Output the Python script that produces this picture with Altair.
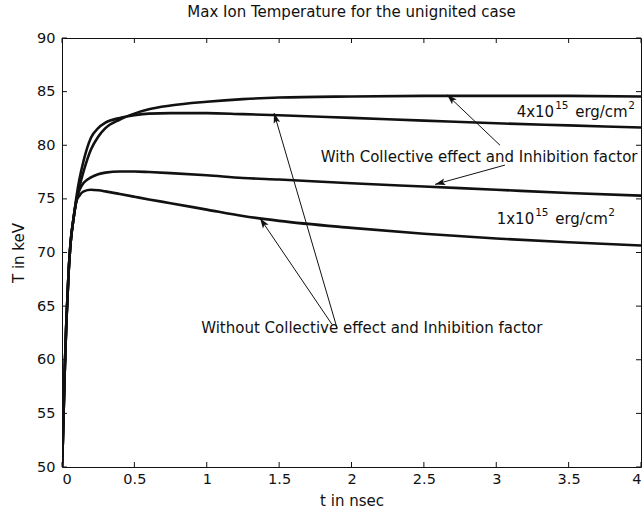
import math
import altair as alt
import pandas as pd

# ---------------- data ----------------
t = [0, 0.005, 0.01, 0.02, 0.03, 0.045, 0.06, 0.08, 0.1, 0.12, 0.15, 0.2, 0.25,
     0.3, 0.4, 0.5, 0.6, 0.75, 1.0, 1.25, 1.5, 2.0, 2.5, 3.0, 3.5, 4.0]
T_4e15_without = [50, 52, 54.5, 59.5, 63.5, 68, 71, 73.2, 74.9, 76.1, 77.6, 79.6, 80.8,
                  81.6, 82.4, 82.95, 83.35, 83.7, 84.05, 84.3, 84.45, 84.55, 84.6, 84.6, 84.6, 84.55]
T_4e15_with = [50, 52, 54.5, 59.5, 63.5, 68, 71, 73.2, 75.2, 76.8, 78.6, 80.7, 81.6,
               82.1, 82.55, 82.8, 82.95, 83.0, 83.0, 82.9, 82.8, 82.55, 82.3, 82.05, 81.85, 81.65]
T_1e15_with = [50, 52, 54.5, 59.5, 63.5, 68, 71, 73.2, 74.9, 75.8, 76.5, 77.0, 77.3,
               77.45, 77.55, 77.55, 77.5, 77.4, 77.2, 76.95, 76.8, 76.45, 76.15, 75.85, 75.55, 75.3]
T_1e15_without = [50, 52, 54.5, 59.5, 63.5, 68, 71, 73.2, 74.8, 75.3, 75.7, 75.85, 75.8,
                  75.7, 75.45, 75.2, 74.95, 74.6, 74.0, 73.4, 72.95, 72.3, 71.75, 71.3, 70.95, 70.65]

series_names = ["4e15 without", "4e15 with", "1e15 with", "1e15 without"]
series_values = [T_4e15_without, T_4e15_with, T_1e15_with, T_1e15_without]

x_ticks = [0, 0.5, 1, 1.5, 2, 2.5, 3, 3.5, 4]
y_ticks = [50, 55, 60, 65, 70, 75, 80, 85, 90]

title_text = "Max Ion Temperature for the unignited case"
x_title = "t in nsec"
y_title = "T in keV"

# annotation arrows (tail -> head, in data units)
arrow_t_tail = [3.026, 3.06, 1.865, 1.90]
arrow_T_tail = [80.0, 78.15, 63.3, 62.95]
arrow_t_head = [2.66, 2.577, 1.368, 1.465]
arrow_T_head = [84.7, 76.35, 73.2, 83.0]

# annotation texts
label_text = ["With Collective effect and Inhibition factor",
              "Without Collective effect and Inhibition factor"]
label_t = [2.882, 2.14]
label_T = [78.88, 63.0]

fluence_base = ["4x10", "1x10"]
fluence_exp = ["15", "15"]
fluence_unit = ["erg/cm", "erg/cm"]
fluence_unit_exp = ["2", "2"]
fluence_t = [3.141, 3.003]
fluence_T = [82.61, 72.66]

# ---------------- layout ----------------
W, H = 579, 429
X0, X1, Y0, Y1 = 0, 4, 50, 90
FONT = "DejaVu Sans"
INK = "#111111"

rows = []
for name, vals in zip(series_names, series_values):
    for ti, vi in zip(t, vals):
        rows.append({"series": name, "t": ti, "T": vi})
df = pd.DataFrame(rows)

xscale = alt.Scale(domain=[X0, X1], nice=False, zero=False)
yscale = alt.Scale(domain=[Y0, Y1], nice=False, zero=False)

lines = alt.Chart(df).mark_line(strokeWidth=2.6, color=INK, interpolate="monotone",
                                clip=True).encode(
    x=alt.X("t:Q", scale=xscale,
            axis=alt.Axis(values=x_ticks, format="~g", title=x_title,
                          labelPadding=5, titlePadding=8)),
    y=alt.Y("T:Q", scale=yscale,
            axis=alt.Axis(values=y_ticks, format="d", title=y_title,
                          labelPadding=7, titlePadding=10)),
    detail="series:N",
)

# inward ticks on all four sides
xt = pd.DataFrame({"t": x_ticks})
yt = pd.DataFrame({"T": y_ticks})
TL = 5
tick_bottom = alt.Chart(xt).mark_rule(color=INK, strokeWidth=1).encode(
    x=alt.X("t:Q", scale=xscale), y=alt.value(H), y2=alt.value(H - TL))
tick_top = alt.Chart(xt).mark_rule(color=INK, strokeWidth=1).encode(
    x=alt.X("t:Q", scale=xscale), y=alt.value(0), y2=alt.value(TL))
tick_left = alt.Chart(yt).mark_rule(color=INK, strokeWidth=1).encode(
    y=alt.Y("T:Q", scale=yscale), x=alt.value(0), x2=alt.value(TL))
tick_right = alt.Chart(yt).mark_rule(color=INK, strokeWidth=1).encode(
    y=alt.Y("T:Q", scale=yscale), x=alt.value(W), x2=alt.value(W - TL))

# arrows
px_per_t = W / (X1 - X0)
px_per_T = H / (Y1 - Y0)
angles = []
for tt, Tt, th, Th in zip(arrow_t_tail, arrow_T_tail, arrow_t_head, arrow_T_head):
    dx = (th - tt) * px_per_t
    dy = -(Th - Tt) * px_per_T
    angles.append(math.degrees(math.atan2(dx, -dy)) % 360)
arr = pd.DataFrame({"t1": arrow_t_tail, "T1": arrow_T_tail,
                    "t2": arrow_t_head, "T2": arrow_T_head, "ang": angles})
arrow_lines = alt.Chart(arr).mark_rule(color=INK, strokeWidth=1).encode(
    x=alt.X("t1:Q", scale=xscale), y=alt.Y("T1:Q", scale=yscale),
    x2="t2:Q", y2="T2:Q")
head_shape = "M0,0 L0.33,1 L0,0.78 L-0.33,1 Z"
arrow_heads = alt.Chart(arr).mark_point(shape=head_shape, filled=True, fill=INK,
                                        strokeWidth=0, size=420, opacity=1).encode(
    x=alt.X("t2:Q", scale=xscale), y=alt.Y("T2:Q", scale=yscale),
    angle=alt.Angle("ang:Q", scale=None))

# texts
lab = pd.DataFrame({"text": label_text, "t": label_t, "T": label_T})
labels = alt.Chart(lab).mark_text(font=FONT, fontSize=15, color=INK, align="center",
                                  baseline="middle").encode(
    x=alt.X("t:Q", scale=xscale), y=alt.Y("T:Q", scale=yscale), text="text:N")

flu = pd.DataFrame({"b": fluence_base, "e": fluence_exp, "u": fluence_unit,
                    "ue": fluence_unit_exp, "t": fluence_t, "T": fluence_T})
def flu_piece(field, dx, dy, size):
    return alt.Chart(flu).mark_text(font=FONT, fontSize=size, color=INK, align="left",
                                    baseline="alphabetic", dx=dx, dy=dy).encode(
        x=alt.X("t:Q", scale=xscale), y=alt.Y("T:Q", scale=yscale), text=f"{field}:N")

flu_layers = [flu_piece("b", 0, 0, 15), flu_piece("e", 38.5, -8, 10.5),
              flu_piece("u", 58.5, 0, 15), flu_piece("ue", 111.5, -8, 10.5)]

chart = alt.layer(lines, tick_bottom, tick_top, tick_left, tick_right,
                  arrow_lines, arrow_heads, labels, *flu_layers).properties(
    width=W, height=H,
    title=alt.TitleParams(title_text, font=FONT, fontSize=15, fontWeight="normal",
                          color=INK, anchor="middle", offset=10),
    autosize=alt.AutoSizeParams(type="none"),
    padding={"left": 62, "top": 38, "right": 3, "bottom": 48},
    background="white",
).configure_view(stroke=INK, strokeWidth=1).configure_axis(
    domain=False, ticks=False, grid=False, labelFont=FONT, labelFontSize=14.5,
    labelColor=INK, titleFont=FONT, titleFontSize=15, titleFontWeight="normal",
    titleColor=INK,
)

chart.save("out.html", embed_options={"renderer": "svg", "actions": False})
